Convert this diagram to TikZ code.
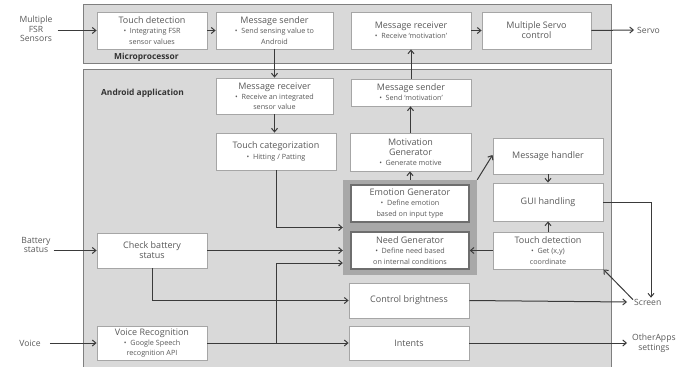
\documentclass[tikz,border=0pt]{standalone}
\usepackage{fontspec}
\setmainfont{Open Sans}
\usetikzlibrary{arrows.meta,calc}
\definecolor{txt}{HTML}{595959}
\definecolor{panelfill}{HTML}{D9D9D9}
\definecolor{panelline}{HTML}{7F7F7F}
\definecolor{boxline}{HTML}{A6A6A6}
\definecolor{hlfill}{HTML}{A8A8A8}
\definecolor{hlline}{HTML}{6E6E6E}
\definecolor{wire}{HTML}{3A3A3A}
\newcommand{\bl}[1]{{\fontsize{7.2}{8}\selectfont #1}}
\begin{document}
\begin{tikzpicture}[x=1pt,y=-1pt,
  panel/.style={draw=panelline,fill=panelfill,line width=0.9pt},
  box/.style={draw=boxline,fill=white,line width=0.9pt,align=center,text=txt,
    font=\fontsize{9}{10.2}\selectfont,inner sep=0pt},
  hbox/.style={box,draw=hlline,line width=1.5pt},
  lbl/.style={align=center,text=txt,font=\fontsize{8.6}{9.6}\selectfont,inner sep=1pt},
  ttl/.style={text=black!80,font=\bfseries\fontsize{8.4}{9}\selectfont,inner sep=0pt,anchor=west},
  arr/.style={draw=wire,line width=1pt,-{Straight Barb[length=3.5pt,width=6pt]}}]
\useasboundingbox (0,0) rectangle (694,367);
% panels
\path[panel] (83,4) rectangle (611,63);
\path[panel] (83,69) rectangle (611,372);
\node[ttl] (micro) at (114,57) {Microprocessor};
\node[ttl] (andr) at (101,93) {Android application};
% highlight
\node[draw=none,fill=hlfill,minimum width=134pt,minimum height=95pt,inner sep=0pt] (hl) at (410,227.5) {};
% microprocessor boxes
\node[box,minimum width=110pt,minimum height=37pt] (td1) at (152,30.5) {Touch detection\\\bl{\textbullet~~Integrating FSR}\\\bl{sensor values}};
\node[box,minimum width=117pt,minimum height=37pt] (ms1) at (274.5,30.5) {Message sender\\\bl{\textbullet~~Send sensing value to}\\\bl{Android}};
\node[box,minimum width=120pt,minimum height=37pt] (mr1) at (411,30.5) {Message receiver\\\bl{\textbullet~~Receive `motivation'}};
\node[box,minimum width=109pt,minimum height=37pt] (sc) at (536.5,30.5) {Multiple Servo\\control};
% android boxes
\node[box,minimum width=117pt,minimum height=36pt] (mr2) at (274.5,96) {Message receiver\\\bl{\textbullet~~Receive an integrated}\\\bl{sensor value}};
\node[box,minimum width=120pt,minimum height=27pt] (ms2) at (411,92.5) {Message sender\\\bl{\textbullet~~Send `motivation'}};
\node[box,minimum width=120pt,minimum height=37pt] (tc) at (276,151.5) {Touch categorization\\\bl{\textbullet~~Hitting / Patting}};
\node[box,minimum width=121pt,minimum height=38pt] (mg) at (410.5,152) {Motivation\\Generator\\\bl{\textbullet~~Generate motive}};
\node[hbox,minimum width=118pt,minimum height=37pt] (eg) at (410,203.5) {Emotion Generator\\\bl{\textbullet~~Define emotion}\\\bl{based on input type}};
\node[hbox,minimum width=118pt,minimum height=37pt] (ng) at (410,250.5) {Need Generator\\\bl{\textbullet~~Define need based}\\\bl{on internal conditions}};
\node[box,minimum width=110pt,minimum height=36pt] (mh) at (548,156) {Message handler};
\node[box,minimum width=110pt,minimum height=38pt] (gui) at (548,202) {GUI handling};
\node[box,minimum width=110pt,minimum height=37pt] (td2) at (548,250.5) {Touch detection\\\bl{\textbullet~~Get (x,y)}\\\bl{coordinate}};
\node[box,minimum width=110pt,minimum height=35pt] (cb) at (152,250.5) {Check battery\\status};
\node[box,minimum width=110pt,minimum height=34pt] (vr) at (152,343) {Voice Recognition\\\bl{\textbullet~~Google Speech}\\\bl{recognition API}};
\node[box,minimum width=120pt,minimum height=35pt] (br) at (409,300.5) {Control brightness};
\node[box,minimum width=120pt,minimum height=34pt] (it) at (409,343) {Intents};
% outer labels
\node[lbl] (fsr) at (36,29) {Multiple\\FSR\\Sensors};
\node[lbl] (bat) at (36,245) {Battery\\status};
\node[lbl] (voice) at (30,343) {Voice};
\node[lbl,anchor=west] (servo) at (636,30) {Servo};
\node[lbl,anchor=west] (screen) at (633,302) {Screen};
\node[lbl,anchor=west] (oth) at (631,343) {OtherApps\\settings};
\coordinate (vj) at (276,263);
% connectors
\draw[arr] ([xshift=4pt]fsr.east |- td1.west) -- (td1.west);
\draw[arr] ([xshift=2pt]bat.east |- cb.west) -- (cb.west);
\draw[arr] ([xshift=8pt]voice.east) -- (vr.west);
\draw[arr] (td1.east) -- (ms1.west);
\draw[arr] (ms1.south) -- (mr2.north);
\draw[arr] (mr2.south) -- (mr2.south |- tc.north);
\draw[arr] (tc.south) |- (hl.west);
\draw[arr] (cb.east) -- (cb.east -| hl.west);
\draw[arr] (vr.east) -- (it.west);
\draw[arr] (vr.east -| vj) -- (vj) -- (vj -| hl.west);
\draw[arr] (cb.south) |- (br.west);
\draw[arr] (hl.north) -- (hl.north |- mg.south);
\draw[arr] (mg.north) -- (mg.north |- ms2.south);
\draw[arr] (ms2.north) -- (ms2.north |- mr1.south);
\draw[arr] (mr1.east) -- (sc.west);
\draw[arr] (sc.east) -- ([xshift=-2pt]servo.west);
\draw[arr] (hl.north east) -- ([yshift=1pt]mh.west);
\draw[arr] (mh.south) -- (gui.north);
\draw[arr] (td2.north) -- (gui.south);
\draw[arr] (td2.west) -- (ng.east);
\draw[arr] (gui.east) -| ([xshift=18pt]screen.north west);
\draw[arr] ([yshift=-2pt]screen.north west) -- (td2.south east);
\draw[arr] (br.east) -- ([xshift=-6pt]screen.west);
\draw[arr] (it.east) -- ([xshift=-4pt]oth.west);
\end{tikzpicture}
\end{document}
